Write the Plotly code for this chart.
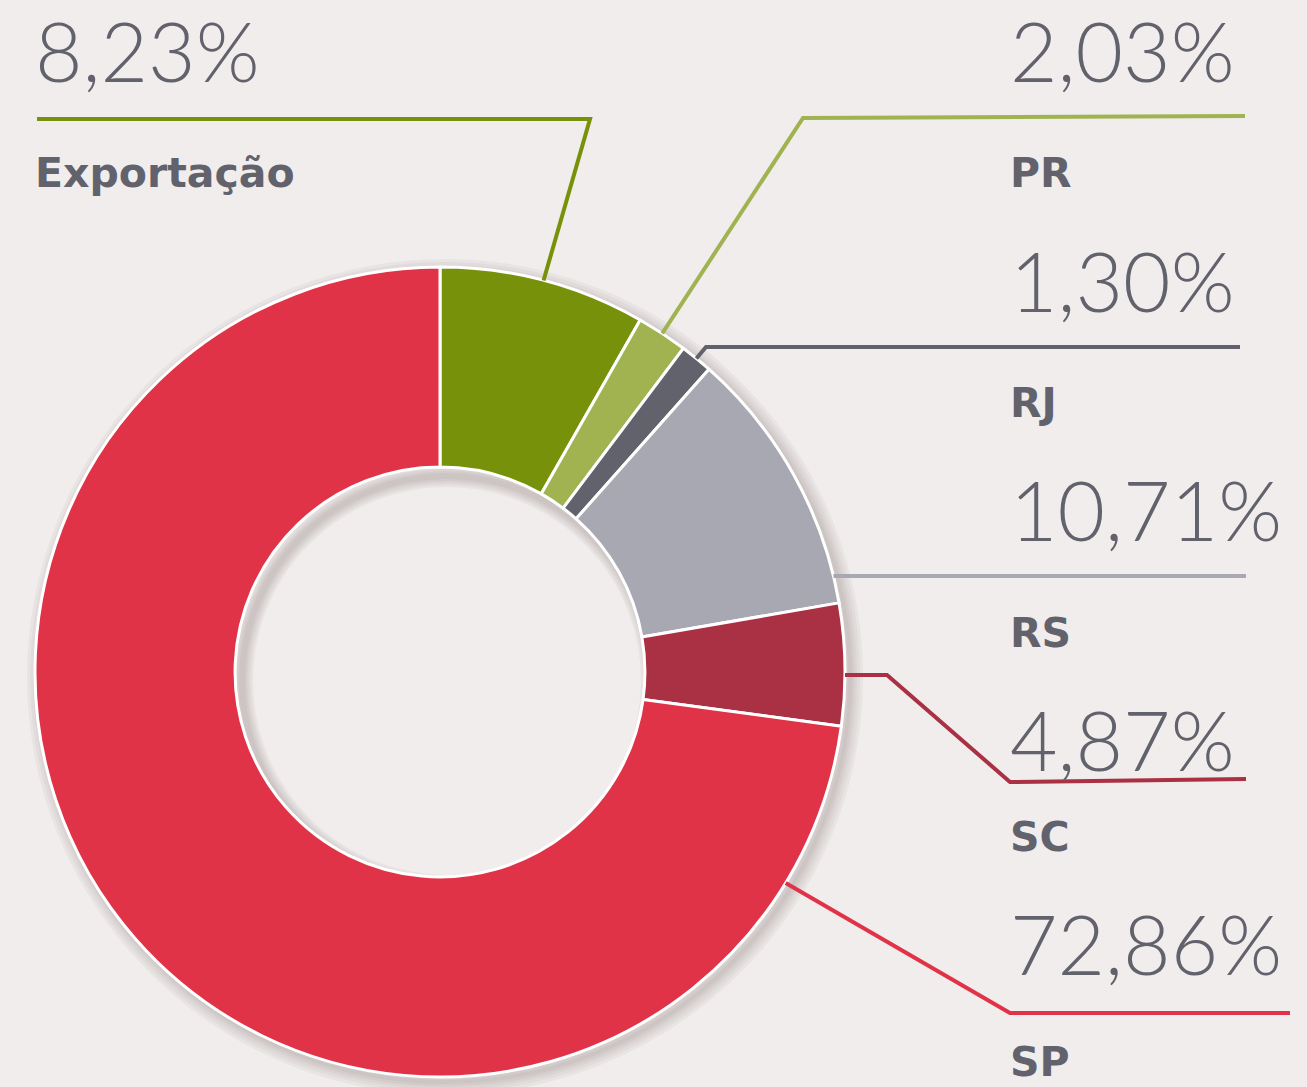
import math
import plotly.graph_objects as go

# ---- data ----
labels = ["Exportação", "PR", "RJ", "RS", "SC", "SP"]
values = [8.23, 2.03, 1.30, 10.71, 4.87, 72.86]
value_text = ["8,23%", "2,03%", "1,30%", "10,71%", "4,87%", "72,86%"]
colors = ["#77910A", "#A0B350", "#62626C", "#A8A8B3", "#AA3043", "#E13348"]

W, H = 1307, 1087
BG = "#F0EDEC"
TXT = "#62626C"

# donut geometry (pixels)
CX, CY, R = 440, 672, 405
HOLE = 0.506
RIN = R * HOLE


def px(x):
    return x / W


def py(y):
    return 1 - y / H


fig = go.Figure()
fig.add_trace(go.Pie(
    labels=labels, values=values, sort=False, direction="clockwise", rotation=0,
    hole=HOLE, marker=dict(colors=colors, line=dict(color="white", width=3)),
    textinfo="none", hoverinfo="label+percent", showlegend=False,
    domain=dict(x=[px(CX - R), px(CX + R)], y=[py(CY + R), py(CY - R)]),
))

# slice mid angles derived from data
total = sum(values)
cum = 0
mids = []
for v in values:
    mids.append((cum + v / 2) / total * 2 * math.pi)
    cum += v


def on_mid(i):
    t = mids[i]
    return CX + R * math.sin(t), CY - R * math.cos(t)


def on_circle_y(y):
    return CX + math.sqrt(R * R - (y - CY) ** 2), y


shapes = []


def ring(cx, cy, r, width, opacity):
    shapes.append(dict(type="circle", xref="paper", yref="paper",
                       x0=px(cx - r), x1=px(cx + r), y0=py(cy + r), y1=py(cy - r),
                       line=dict(color=f"rgba(60,55,55,{opacity})", width=width),
                       layer="below"))


# soft shadows (drawn beneath the donut)
for w in (4, 9, 14, 20, 26):
    ring(CX + 5, CY + 5, R, w, 0.045)
for w in (6, 10, 14, 18, 22):
    ring(CX + 7, CY + 9, RIN, w, 0.045)

# leader line routes: start point on donut, then elbows (layout positions)
routes = [
    [on_mid(0), (590, 119), (37, 119)],
    [on_mid(1), (803, 118), (1245, 116)],
    [on_mid(2), (706, 347), (1240, 347)],
    [on_circle_y(576), (1246, 576)],
    [on_circle_y(675), (887, 675), (1010, 782), (1246, 779)],
    [on_circle_y(883), (1010, 1013), (1290, 1013)],
]
for pts, col in zip(routes, colors):
    path = "M " + " L ".join(f"{px(x):.5f},{py(y):.5f}" for x, y in pts)
    shapes.append(dict(type="path", xref="paper", yref="paper", path=path,
                       line=dict(color=col, width=4), layer="above"))

# label positions (pixels: left x, number mid y, label mid y)
label_pos = [(34, 50, 173), (1009, 50, 173), (1009, 280, 403),
             (1009, 509, 633), (1009, 739, 837), (1009, 943, 1062)]
annotations = []
for (x, yn, yl), vt, lab in zip(label_pos, value_text, labels):
    annotations.append(dict(x=px(x), y=py(yn), xref="paper", yref="paper",
                            text=vt, showarrow=False, xanchor="left", yanchor="middle",
                            borderpad=0,
                            font=dict(family="Lato", size=82, color=TXT, weight=300)))
    annotations.append(dict(x=px(x), y=py(yl), xref="paper", yref="paper",
                            text=f"<b>{lab}</b>", showarrow=False, xanchor="left",
                            yanchor="middle", borderpad=0,
                            font=dict(family="DejaVu Sans", size=41, color=TXT)))

fig.update_layout(
    width=W, height=H, margin=dict(l=0, r=0, t=0, b=0),
    paper_bgcolor=BG, plot_bgcolor=BG,
    shapes=shapes, annotations=annotations,
)
fig.write_html(
    "out.html",
    config={"displayModeBar": False},
    post_script="document.body.style.margin='0';document.body.style.background='#F0EDEC';",
)
